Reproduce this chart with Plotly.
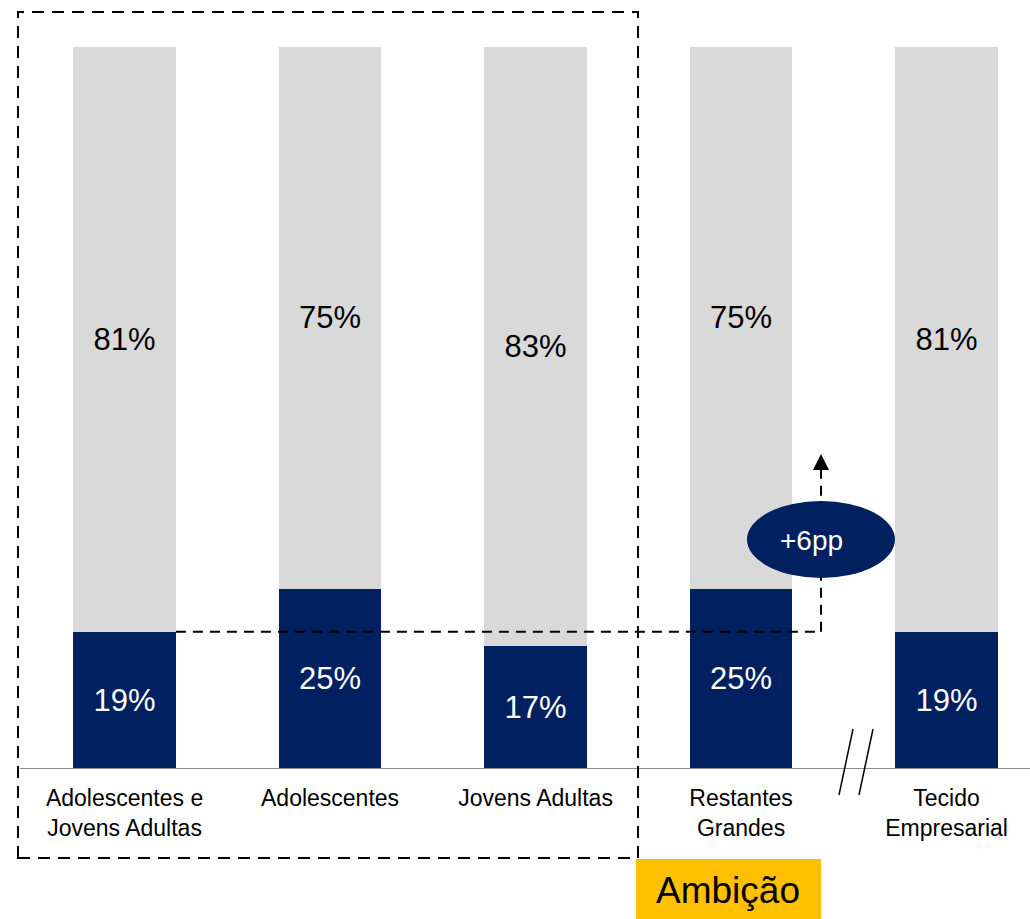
import plotly.graph_objects as go

categories = ["Adolescentes e<br>Jovens Adultas", "Adolescentes", "Jovens Adultas",
              "Restantes<br>Grandes", "Tecido<br>Empresarial"]
dark_values = [19, 25, 17, 25, 19]
light_values = [81, 75, 83, 75, 81]
delta_label = "+6pp"
ambition_label = "Ambição"

NAVY = "#002060"
GREY = "#D9D9D9"
FONT = "Liberation Sans, Arial, sans-serif"

W, H = 1030, 919
ML, MR, MT, MB = 0, 0, 47, 150
x_range = [-0.606, 4.406]
x_pos = list(range(len(categories)))

fig = go.Figure()
fig.add_trace(go.Bar(
    x=x_pos, y=dark_values, width=0.5, marker=dict(color=NAVY, line=dict(width=0)),
    text=[f"{v}%" for v in dark_values], textposition="inside", insidetextanchor="middle",
    textfont=dict(color="white", size=31, family=FONT), textangle=0, showlegend=False,
    hoverinfo="skip"))
fig.add_trace(go.Bar(
    x=x_pos, y=light_values, width=0.5, marker=dict(color=GREY, line=dict(width=0)),
    text=[f"{v}%" for v in light_values], textposition="inside", insidetextanchor="middle",
    textfont=dict(color="black", size=31, family=FONT), textangle=0, showlegend=False,
    hoverinfo="skip"))

def px_x(p):
    return (p - ML) / (W - ML - MR)

def px_y(p):
    return (H - MB - p) / (H - MT - MB)

def dx(p):
    return x_range[0] + (p - ML) / (W - ML - MR) * (x_range[1] - x_range[0])

def dy(p):
    return (H - MB - p) / (H - MT - MB) * 100

shapes = []
shapes.append(dict(type="line", xref="paper", yref="y", x0=px_x(20), x1=1, y0=0, y1=0,
                   line=dict(color="#8C8C8C", width=2), layer="above"))
shapes.append(dict(type="rect", xref="paper", yref="paper", x0=px_x(18), x1=px_x(638),
                   y0=px_y(858), y1=px_y(12), line=dict(color="black", width=2, dash="12px,8px"),
                   fillcolor="rgba(0,0,0,0)", layer="above"))
arrow_x = dx(821)
shapes.append(dict(type="line", xref="x", yref="y", x0=0.25, x1=arrow_x,
                   y0=dark_values[0], y1=dark_values[0],
                   line=dict(color="black", width=2, dash="10px,7px"), layer="above"))
shapes.append(dict(type="line", xref="x", yref="y", x0=arrow_x, x1=arrow_x,
                   y0=dark_values[0], y1=dy(468),
                   line=dict(color="black", width=2, dash="10px,7px"), layer="above"))
shapes.append(dict(type="path", xref="paper", yref="paper",
                   path=f"M {px_x(821)} {px_y(454)} L {px_x(813)} {px_y(470)} L {px_x(829)} {px_y(470)} Z",
                   fillcolor="black", line=dict(width=0), layer="above"))
shapes.append(dict(type="circle", xref="x", yref="y", x0=dx(747), x1=dx(895),
                   y0=dy(578), y1=dy(501), fillcolor=NAVY, line=dict(width=0), layer="above"))
for off in (0, 20):
    shapes.append(dict(type="line", xref="paper", yref="paper",
                       x0=px_x(839 + off), x1=px_x(853 + off), y0=px_y(795), y1=px_y(729),
                       line=dict(color="black", width=1.5), layer="above"))
shapes.append(dict(type="rect", xref="paper", yref="paper", x0=px_x(636), x1=px_x(821),
                   y0=px_y(919), y1=px_y(859), fillcolor="#FFC000", line=dict(width=0),
                   layer="above"))

annotations = [
    dict(xref="x", yref="y", x=dx(811), y=dy(540), text=delta_label, showarrow=False,
         xanchor="center", yanchor="middle",
         font=dict(color="white", size=28, family=FONT)),
    dict(xref="paper", yref="paper", x=px_x(727.5), y=px_y(890), text=ambition_label,
         showarrow=False, xanchor="center", yanchor="middle",
         font=dict(color="black", size=37, family=FONT)),
]

fig.update_layout(
    barmode="stack", width=W, height=H,
    margin=dict(l=ML, r=MR, t=MT, b=MB, pad=0),
    plot_bgcolor="white", paper_bgcolor="white",
    shapes=shapes, annotations=annotations,
    xaxis=dict(range=x_range, tickvals=x_pos, ticktext=categories, showgrid=False,
               zeroline=False, showline=False, ticks="", ticklabelstandoff=13,
               tickfont=dict(size=23, color="black", family=FONT), fixedrange=True),
    yaxis=dict(range=[0, 100], visible=False, fixedrange=True),
    font=dict(family=FONT),
)

fig.write_html("out.html", config={"displayModeBar": False},
               post_script="document.body.style.margin='0';document.body.style.overflow='hidden';")
